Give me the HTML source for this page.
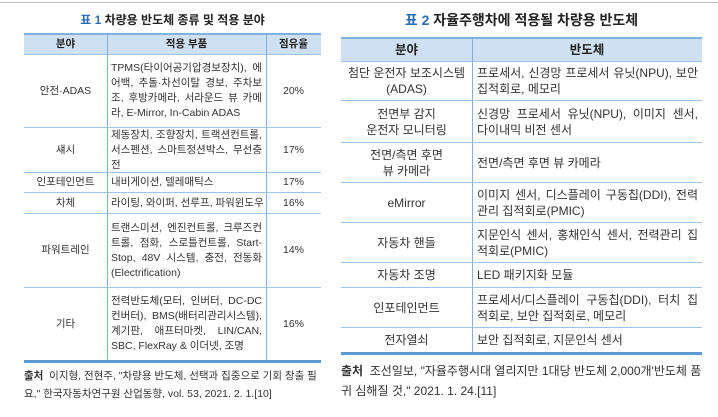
<!DOCTYPE html>
<html><head><meta charset="utf-8"><style>
*{margin:0;padding:0;box-sizing:border-box}
body{width:718px;height:417px;background:#fff;font-family:"Liberation Sans","Noto Sans CJK KR",sans-serif;color:#333;position:relative;overflow:hidden}
.a{position:absolute}
.t{display:flex;align-items:center}
.c{justify-content:center;text-align:center}
.h{background:#cfe0f2;font-weight:bold;color:#222}
.bl{border-bottom:1px solid #9cc3e8}
.j{text-align:justify}
</style></head><body>
<div class="a" style="left:0;top:2px;width:718px;height:1px;background:#bbb"></div>

<div class="a" style="left:24px;top:11px;width:297px;text-align:center;font-size:12px;font-weight:bold;color:#222"><span style="color:#2a6db5">표 1</span> 차량용 반도체 종류 및 적용 분야</div>
<div class="a" style="left:24px;top:33px;width:297px;height:329px;font-size:10.5px;line-height:15px">
 <div class="a" style="left:0;top:0;width:297px;height:2px;background:#7fb0e0"></div>
 <div class="a t c h" style="left:0;top:2px;width:297px;height:20px;border-bottom:1px solid #9cc3e8"><div style="width:83px">분야</div><div style="width:159px">적용 부품</div><div style="width:55px">점유율</div></div>
 <div class="a" style="left:83px;top:2px;width:1px;height:325px;background:#7fb0e0"></div>
 <div class="a" style="left:242px;top:2px;width:1px;height:325px;background:#7fb0e0"></div>
 <div class="a t bl" style="left:0;top:22px;width:297px;height:73px"><div style="width:83px;text-align:center">안전·ADAS</div><div class="j" style="width:159px;padding:0 4px">TPMS(타이어공기압경보장치), 에어백, 추돌·차선이탈 경보, 주차보조, 후방카메라, 서라운드 뷰 카메라, E-Mirror, In-Cabin ADAS</div><div style="width:55px;text-align:center">20%</div></div>
 <div class="a t bl" style="left:0;top:95px;width:297px;height:45px"><div style="width:83px;text-align:center">섀시</div><div class="j" style="width:159px;padding:0 4px">제동장치, 조향장치, 트랙션컨트롤, 서스펜션, 스마트정션박스, 무선충전</div><div style="width:55px;text-align:center">17%</div></div>
 <div class="a t bl" style="left:0;top:140px;width:297px;height:20px"><div style="width:83px;text-align:center">인포테인먼트</div><div style="width:159px;padding-left:4px">내비게이션, 텔레매틱스</div><div style="width:55px;text-align:center">17%</div></div>
 <div class="a t bl" style="left:0;top:160px;width:297px;height:21px"><div style="width:83px;text-align:center">차체</div><div style="width:159px;padding-left:4px">라이팅, 와이퍼, 선루프, 파워윈도우</div><div style="width:55px;text-align:center">16%</div></div>
 <div class="a t bl" style="left:0;top:181px;width:297px;height:74px"><div style="width:83px;text-align:center">파워트레인</div><div class="j" style="width:159px;padding:0 4px">트랜스미션, 엔진컨트롤, 크루즈컨트롤, 점화, 스로틀컨트롤, Start-Stop, 48V 시스템, 충전, 전동화(Electrification)</div><div style="width:55px;text-align:center">14%</div></div>
 <div class="a t" style="left:0;top:255px;width:297px;height:72px"><div style="width:83px;text-align:center">기타</div><div class="j" style="width:159px;padding:0 4px">전력반도체(모터, 인버터, DC-DC 컨버터), BMS(배터리관리시스템), 계기판, 애프터마켓, LIN/CAN, SBC, FlexRay &amp; 이더넷, 조명</div><div style="width:55px;text-align:center">16%</div></div>
 <div class="a" style="left:0;top:327px;width:297px;height:3px;background:#5b9bd5"></div>
</div>
<div class="a" style="left:24px;top:367px;width:300px;font-size:10.5px;line-height:18px"><b>출처</b>&nbsp; 이지형, 전현주, "차량용 반도체, 선택과 집중으로 기회 창출 필요," 한국자동차연구원 산업동향, vol. 53, 2021. 2. 1.[10]</div>

<div class="a" style="left:341px;top:10px;width:361px;text-align:center;font-size:14px;font-weight:bold;color:#222"><span style="color:#2a6db5">표 2</span> 자율주행차에 적용될 차량용 반도체</div>
<div class="a" style="left:341px;top:37px;width:361px;height:318px;font-size:12px;line-height:16px">
 <div class="a" style="left:0;top:0;width:361px;height:2px;background:#7fb0e0"></div>
 <div class="a t h" style="left:0;top:2px;width:361px;height:23px;border-bottom:1px solid #9cc3e8;font-size:12.5px"><div style="width:131px;text-align:center">분야</div><div style="width:230px;text-align:center">반도체</div></div>
 <div class="a" style="left:131px;top:2px;width:1px;height:313px;background:#7fb0e0"></div>
 <div class="a t bl" style="left:0;top:25px;width:361px;height:39px"><div style="width:131px;text-align:center">첨단 운전자 보조시스템<br>(ADAS)</div><div class="j" style="width:230px;padding:0 4px 0 5px">프로세서, 신경망 프로세서 유닛(NPU), 보안 집적회로, 메모리</div></div>
 <div class="a t bl" style="left:0;top:64px;width:361px;height:42px"><div style="width:131px;text-align:center">전면부 감지<br>운전자 모니터링</div><div class="j" style="width:230px;padding:0 4px 0 5px">신경망 프로세서 유닛(NPU), 이미지 센서, 다이내믹 비전 센서</div></div>
 <div class="a t bl" style="left:0;top:106px;width:361px;height:40px"><div style="width:131px;text-align:center">전면/측면 후면<br>뷰 카메라</div><div style="width:230px;padding-left:5px">전면/측면 후면 뷰 카메라</div></div>
 <div class="a t bl" style="left:0;top:146px;width:361px;height:40px"><div style="width:131px;text-align:center">eMirror</div><div class="j" style="width:230px;padding:0 4px 0 5px">이미지 센서, 디스플레이 구동칩(DDI), 전력관리 집적회로(PMIC)</div></div>
 <div class="a t bl" style="left:0;top:186px;width:361px;height:40px"><div style="width:131px;text-align:center">자동차 핸들</div><div class="j" style="width:230px;padding:0 4px 0 5px">지문인식 센서, 홍채인식 센서, 전력관리 집적회로(PMIC)</div></div>
 <div class="a t bl" style="left:0;top:226px;width:361px;height:25px"><div style="width:131px;text-align:center">자동차 조명</div><div style="width:230px;padding-left:5px">LED 패키지화 모듈</div></div>
 <div class="a t bl" style="left:0;top:251px;width:361px;height:40px"><div style="width:131px;text-align:center">인포테인먼트</div><div class="j" style="width:230px;padding:0 4px 0 5px">프로세서/디스플레이 구동칩(DDI), 터치 집적회로, 보안 집적회로, 메모리</div></div>
 <div class="a t" style="left:0;top:291px;width:361px;height:24px"><div style="width:131px;text-align:center">전자열쇠</div><div style="width:230px;padding-left:5px">보안 집적회로, 지문인식 센서</div></div>
 <div class="a" style="left:0;top:315px;width:361px;height:3px;background:#5b9bd5"></div>
</div>
<div class="a" style="left:341px;top:361px;width:365px;font-size:12px;line-height:20px"><b>출처</b>&nbsp; 조선일보, "자율주행시대 열리지만 1대당 반도체 2,000개'반도체 품귀 심해질 것," 2021. 1. 24.[11]</div>
</body></html>
